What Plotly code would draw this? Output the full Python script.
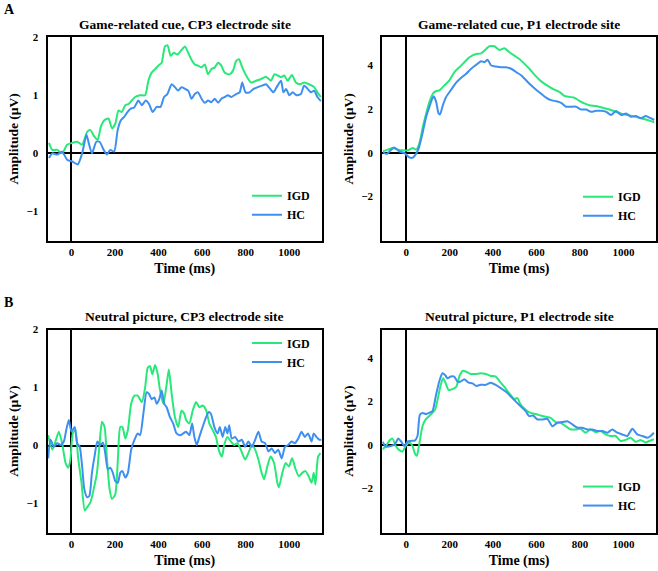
import plotly.graph_objects as go

# ---------------- data ----------------
# Panel A-left: Game-related cue, CP3
a_cp3_igd_t = [-103,-88,-65,-43,-20,3,26,49,72,87,105,120,135,151,170,186,201,216,231,247,262,277,292,315,338,353,368,384,399,414,429,441,455,470,486,501,521,536,551,566,581,597,612,627,642,658,673,688,703,726,741,756,769,784,802,825,848,871,893,916,931,947,962,977,992,1012,1030,1049,1068,1091,1114,1129,1145]
a_cp3_igd_v = [0.18,0.06,0.06,0.0,0.15,0.18,0.20,0.15,0.37,0.40,0.29,0.23,0.46,0.57,0.60,0.43,0.51,0.74,0.71,0.83,0.85,0.91,0.97,1.0,1.0,1.25,1.39,1.45,1.51,1.56,1.84,1.86,1.68,1.73,1.70,1.76,1.84,1.73,1.61,1.53,1.51,1.48,1.53,1.36,1.45,1.48,1.56,1.51,1.39,1.36,1.42,1.59,1.62,1.48,1.34,1.22,1.25,1.28,1.32,1.25,1.36,1.34,1.31,1.34,1.25,1.35,1.22,1.19,1.22,1.19,1.14,1.05,0.97]
a_cp3_hc_t = [-103,-88,-65,-43,-20,3,29,49,69,79,94,114,129,148,163,178,196,212,227,242,257,272,288,307,323,341,356,373,391,409,425,440,460,475,490,505,521,536,551,566,581,597,612,627,642,658,673,688,703,718,734,756,772,784,799,817,836,855,878,893,912,927,942,962,973,985,1000,1015,1033,1053,1068,1084,1099,1114,1129,1145]
a_cp3_hc_v = [-0.08,0.0,-0.02,0.03,-0.11,-0.14,-0.19,0.0,0.32,0.18,0.0,0.20,0.20,0.06,-0.02,0.06,0.03,0.40,0.57,0.63,0.71,0.77,0.79,0.91,0.83,0.91,0.85,0.71,0.80,0.80,0.97,1.02,1.19,1.14,1.08,1.14,1.11,1.08,0.94,1.02,1.05,0.94,0.87,0.91,0.88,0.94,0.87,0.94,0.97,1.0,0.97,1.02,1.05,1.22,1.05,1.05,1.11,1.14,1.17,1.19,1.11,1.05,1.14,1.25,1.05,1.11,1.0,1.05,1.0,1.02,1.17,1.11,1.05,1.08,0.97,0.90]

# Panel A-right: Game-related cue, P1
a_p1_igd_t = [-107,-84,-61,-38,-15,8,31,46,61,77,92,107,123,138,153,176,199,222,245,268,291,322,345,368,383,406,429,452,475,498,521,544,567,590,613,636,659,682,705,728,751,774,797,820,843,874,904,935,966,996,1027,1057,1088,1119,1142]
a_p1_igd_v = [0.06,0.14,0.21,0.14,0.11,0.11,0.21,0.14,0.44,1.20,1.80,2.33,2.71,2.83,2.86,3.09,3.32,3.70,3.92,4.15,4.38,4.53,4.56,4.76,4.88,4.88,4.71,4.79,4.61,4.45,4.30,4.08,3.85,3.58,3.35,3.17,3.02,2.89,2.79,2.61,2.56,2.52,2.38,2.26,2.18,2.14,2.06,1.98,1.88,1.77,1.71,1.65,1.56,1.47,1.39]
a_p1_hc_t = [-107,-89,-69,-54,-31,-8,12,28,43,58,77,92,107,120,127,138,149,156,169,184,207,230,253,276,299,322,345,360,375,391,414,437,460,483,506,529,552,575,598,621,644,667,690,713,736,759,782,805,828,851,874,897,920,943,966,989,1012,1035,1057,1080,1103,1126,1142]
a_p1_hc_v = [0.02,-0.06,0.14,0.24,0.06,-0.02,-0.20,-0.24,-0.09,0.21,0.97,1.65,2.11,2.48,2.59,2.33,1.80,1.76,2.18,2.56,2.89,3.21,3.44,3.62,3.85,4.03,4.20,4.15,4.26,4.0,3.95,3.92,3.92,3.85,3.70,3.55,3.32,3.09,2.89,2.71,2.53,2.41,2.36,2.29,2.11,2.11,2.11,1.98,1.98,1.88,1.92,1.92,1.88,1.73,1.91,1.73,1.80,1.65,1.68,1.58,1.68,1.58,1.50]

# Panel B-left: Neutral picture, CP3
b_cp3_igd_t = [-107,-88,-76,-58,-43,-27,-15,-5,6,18,30,46,61,72,87,102,117,128,140,152,163,175,186,201,213,224,234,247,259,274,289,304,323,338,350,361,371,384,396,406,422,437,447,460,475,490,505,518,526,541,557,572,587,602,618,633,648,663,678,691,701,716,732,747,762,777,797,812,828,843,858,873,884,899,914,930,945,952,968,983,998,1013,1029,1044,1059,1074,1089,1102,1112,1120,1132,1143]
b_cp3_igd_v = [0.18,-0.07,0.04,0.24,0.04,-0.30,-0.38,-0.24,0.21,0.27,-0.19,-0.64,-1.12,-1.06,-0.98,-0.75,-0.47,-0.02,0.41,0.32,-0.24,-0.75,-0.92,-0.84,-0.24,0.32,0.32,0.12,0.27,0.72,0.86,0.86,0.75,1.0,1.34,1.37,1.23,1.39,1.23,0.97,0.72,1.06,1.31,0.89,0.49,0.32,0.60,0.55,0.44,0.38,0.61,0.75,0.66,0.69,0.61,0.38,0.27,0.15,-0.10,-0.19,0.01,0.15,0.07,0.01,0.04,-0.07,-0.24,-0.13,0.01,-0.07,-0.24,-0.47,-0.58,-0.36,-0.19,-0.30,-0.64,-0.72,-0.47,-0.30,-0.36,-0.22,-0.41,-0.53,-0.47,-0.44,-0.53,-0.64,-0.47,-0.67,-0.19,-0.13]
b_cp3_hc_t = [-107,-96,-81,-65,-50,-35,-24,-12,0,15,26,38,49,59,72,82,94,107,119,132,145,155,167,178,190,201,213,224,234,247,259,274,289,304,315,330,345,356,368,381,391,403,414,426,437,452,467,482,498,513,526,541,554,564,575,587,602,618,630,640,656,671,681,694,706,716,724,736,751,767,782,797,812,828,843,858,873,889,904,919,934,949,965,980,995,1010,1025,1041,1056,1071,1086,1102,1112,1124,1138,1147]
b_cp3_hc_v = [-0.22,0.10,-0.02,0.04,0.01,0.07,0.27,0.44,0.24,0.32,0.04,-0.02,-0.36,-0.75,-0.89,-0.87,-0.47,-0.16,0.07,0.01,0.05,-0.13,-0.41,-0.38,-0.47,-0.61,-0.64,-0.47,-0.44,-0.55,-0.47,-0.07,0.10,0.21,0.18,0.55,0.92,0.89,0.80,0.83,0.72,0.80,0.95,0.72,0.66,0.49,0.38,0.21,0.18,0.21,0.24,0.18,0.38,0.15,0.01,0.15,0.32,0.49,0.58,0.55,0.32,0.21,0.32,0.15,0.32,0.21,0.35,0.12,0.15,0.07,0.10,-0.02,0.07,-0.02,0.10,0.24,0.07,0.04,-0.10,-0.05,-0.13,-0.07,-0.22,-0.02,0.01,0.07,0.04,0.12,0.24,0.15,0.21,0.07,0.21,0.15,0.10,0.10]

# Panel B-right: Neutral picture, P1
b_p1_igd_t = [-109,-93,-75,-63,-48,-32,-17,-2,14,29,41,49,60,75,90,113,133,149,159,170,182,195,213,231,247,262,277,297,320,343,366,389,412,431,451,474,497,512,527,550,573,596,619,642,665,688,711,734,757,780,803,826,849,872,895,918,941,964,987,1010,1033,1056,1079,1102,1125,1140]
b_p1_igd_v = [-0.20,-0.05,0.23,0.29,-0.05,-0.24,-0.30,-0.05,0.11,-0.05,-0.42,-0.50,0.03,0.86,1.17,1.39,1.62,2.30,2.76,3.06,2.83,2.53,2.56,2.68,3.21,3.41,3.36,3.26,3.26,3.29,3.26,3.17,3.14,2.91,2.68,2.38,2.11,2.15,1.85,1.62,1.47,1.42,1.35,1.29,1.24,1.05,1.02,0.86,0.71,0.71,0.74,0.56,0.71,0.59,0.64,0.48,0.41,0.41,0.18,0.23,0.33,0.14,0.23,0.11,0.21,0.26]
b_p1_hc_t = [-109,-93,-70,-52,-37,-25,-9,6,21,41,52,63,75,90,106,121,136,152,167,179,190,205,221,236,251,267,287,305,323,343,366,389,412,435,458,481,504,527,550,566,584,604,627,650,673,696,719,742,765,788,811,834,857,880,903,926,949,972,995,1018,1041,1064,1087,1110,1125,1140]
b_p1_hc_v = [0.14,-0.08,-0.05,0.03,0.29,0.18,-0.05,0.15,0.18,0.21,0.41,1.39,1.47,1.42,1.47,1.55,2.23,2.91,3.29,3.21,3.06,3.14,3.14,2.91,2.91,3.02,2.86,2.83,2.71,2.76,2.76,2.86,2.76,2.61,2.45,2.23,2.0,1.77,1.55,1.32,1.35,1.17,1.17,1.20,0.86,1.02,1.05,1.09,0.94,0.79,0.79,0.71,0.71,0.64,0.64,0.56,0.71,0.56,0.48,0.41,0.74,0.48,0.41,0.33,0.41,0.56]

titles = ["Game-related cue, CP3 electrode site", "Game-related cue, P1 electrode site",
          "Neutral picture, CP3 electrode site", "Neutral picture, P1 electrode site"]
series_names = ["IGD", "HC"]
x_ticks = [0, 200, 400, 600, 800, 1000]
y_ticks_cp3 = [-1, 0, 1, 2]
y_ticks_p1 = [-2, 0, 2, 4]
panel_letters = ["A", "B"]

# ---------------- styling ----------------
GREEN = "#28e879"
BLUE = "#3d8ff0"
FONT = "Liberation Serif, Times New Roman, DejaVu Serif, serif"
W, H = 658, 571

# pixel boxes (left, right, top, bottom)
boxes = [(47.5, 322.0, 31.5, 237.0), (382.3, 656.0, 31.5, 237.0),
         (47.5, 322.0, 327.0, 532.2), (382.3, 656.0, 327.0, 532.2)]
yranges = [[-1.5, 2.0], [-4.03, 5.3], [-1.5, 2.0], [-4.03, 5.3]]
yticks = [y_ticks_cp3, y_ticks_p1, y_ticks_cp3, y_ticks_p1]
legend_pos = [(247, 177), (578, 178), (247, 326), (578, 471)]

data = [
    (a_cp3_igd_t, a_cp3_igd_v, a_cp3_hc_t, a_cp3_hc_v),
    (a_p1_igd_t, a_p1_igd_v, a_p1_hc_t, a_p1_hc_v),
    (b_cp3_igd_t, b_cp3_igd_v, b_cp3_hc_t, b_cp3_hc_v),
    (b_p1_igd_t, b_p1_igd_v, b_p1_hc_t, b_p1_hc_v),
]

fig = go.Figure()
layout = dict(
    width=W, height=H, margin=dict(l=0, r=0, t=0, b=0),
    paper_bgcolor="white", plot_bgcolor="white",
    font=dict(family=FONT, color="black"),
    annotations=[], showlegend=True,
)

for i, (it, iv, ht, hv) in enumerate(data):
    n = "" if i == 0 else str(i + 1)
    xa, ya = "x" + n, "y" + n
    leg = "legend" + n
    l, r, t, b = boxes[i]
    fig.add_trace(go.Scatter(x=it, y=iv, mode="lines", name=series_names[0],
                             line=dict(color=GREEN, width=2, shape="spline", smoothing=0.6),
                             xaxis=xa, yaxis=ya, legend=leg))
    fig.add_trace(go.Scatter(x=ht, y=hv, mode="lines", name=series_names[1],
                             line=dict(color=BLUE, width=2, shape="spline", smoothing=0.6),
                             xaxis=xa, yaxis=ya, legend=leg))
    layout["xaxis" + n] = dict(
        domain=[l / W, r / W], anchor=ya, range=[-110, 1150],
        tickvals=x_ticks, ticks="", showgrid=False,
        showline=True, mirror=True, linecolor="black", linewidth=2,
        zeroline=True, zerolinecolor="black", zerolinewidth=1.5,
        tickfont=dict(family=FONT, size=11, color="black", weight="bold"),
        title=dict(text="<b>Time (ms)</b>", font=dict(family=FONT, size=14), standoff=6),
    )
    layout["yaxis" + n] = dict(
        domain=[1 - b / H, 1 - t / H], anchor=xa, range=yranges[i],
        tickvals=yticks[i], ticks="", showgrid=False, ticklabelstandoff=5,
        showline=True, mirror=True, linecolor="black", linewidth=2,
        zeroline=True, zerolinecolor="black", zerolinewidth=1.5,
        tickfont=dict(family=FONT, size=11, color="black", weight="bold"),
        title=dict(text="<b>Amplitude (µV)</b>", font=dict(family=FONT, size=13.5), standoff=5),
    )
    lx, ly = legend_pos[i]
    layout[leg] = dict(
        x=lx / W, y=1 - ly / H, xanchor="left", yanchor="top",
        bgcolor="rgba(0,0,0,0)", borderwidth=0, tracegroupgap=0,
        font=dict(family=FONT, size=12, color="black", weight="bold"),
    )
    layout["annotations"].append(dict(
        text="<b>" + titles[i] + "</b>", x=(l + r) / 2 / W, y=1 - (t - 13) / H,
        xref="paper", yref="paper", xanchor="center", yanchor="middle",
        showarrow=False, font=dict(family=FONT, size=13.5, color="black")))

for j, letter in enumerate(panel_letters):
    layout["annotations"].append(dict(
        text="<b>" + letter + "</b>", x=2 / W, y=1 - (4 if j == 0 else 300) / H,
        xref="paper", yref="paper", xanchor="left", yanchor="middle",
        showarrow=False, font=dict(family=FONT, size=14, color="black")))

fig.update_layout(**layout)
fig.write_html("out.html", config={"displayModeBar": False},
               post_script="document.body.style.margin='0';")
